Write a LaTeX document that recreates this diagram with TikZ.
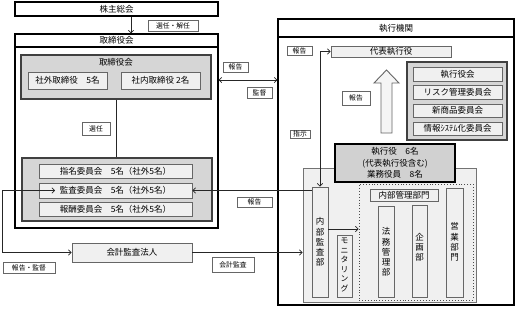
\documentclass[tikz,border=0pt]{standalone}
\usepackage{fontspec}
\setmainfont{Noto Sans CJK JP}
\usetikzlibrary{arrows.meta}
\tikzset{
  frame/.style={draw=black, line width=1.3pt, fill=white, font=\fontsize{8.5}{9}\selectfont},
  grp/.style={draw=black!75, line width=1.1pt, fill=black!16, font=\fontsize{8.5}{9}\selectfont},
  boss/.style={draw=black, line width=1.2pt, fill=black!18, font=\fontsize{8.5}{11.5}\selectfont, align=center},
  area/.style={draw=black!55, line width=0.9pt, fill=black!6},
  box/.style={draw=black!60, line width=0.9pt, fill=black!6, font=\fontsize{8.5}{9}\selectfont},
  vbox/.style={draw=black!60, line width=0.9pt, fill=black!6},
  vtext/.style={font=\fontsize{8.5}{10.2}\selectfont, align=center, inner sep=0pt},
  lbl/.style={draw=black!60, line width=0.8pt, fill=white, font=\fontsize{6.8}{7}\selectfont},
  dotbox/.style={draw=black!70, line width=0.9pt, dotted},
  conn/.style={draw=black!85, line width=0.7pt},
  tip/.style={-{Straight Barb[length=2.6pt,width=5.5pt]}},
  tips/.style={{Straight Barb[length=2.6pt,width=5.5pt]}-{Straight Barb[length=2.6pt,width=5.5pt]}},
}
\newcommand{\bx}[7]{\node[#1, inner sep=0pt, minimum width={(#5-#3)*1pt}, minimum height={(#6-#4)*1pt}] (#2) at ({(#3+#5)/2},{(#4+#6)/2}) {#7};}
\begin{document}
\begin{tikzpicture}[x=1pt,y=-1pt]
\useasboundingbox[fill=white] (0,0) rectangle (515,317);
% ---------- left side ----------
\bx{frame}{kabu}{15}{2}{218}{16}{株主総会}
\bx{frame}{torif}{15}{34}{218}{228}{}
\bx{frame}{torih}{15}{34}{218}{47}{取締役会}
\bx{grp}{torig}{21}{55}{211}{99}{}
\node[font=\fontsize{8.5}{9}\selectfont] (torit) at (116,62) {取締役会};
\bx{box}{shagai}{28}{72}{107}{89}{社外取締役　5名}
\bx{box}{shanai}{121}{72}{200}{89}{社内取締役 2名}
\bx{grp}{iinkai}{22}{158}{212}{221}{}
\bx{box}{shimei}{39}{164}{192}{178}{指名委員会　5名（社外5名）}
\bx{box}{kansa}{39}{183}{192}{198}{監査委員会　5名（社外5名）}
\bx{box}{hoshu}{39}{202}{192}{216}{報酬委員会　5名（社外5名）}
\bx{box}{kaikei}{72}{243}{192}{262}{会計監査法人}
\draw[conn] (torig.south -| 116,0) -- (iinkai.north -| 116,0);
% ---------- right side ----------
\bx{frame}{shikf}{278}{19}{514}{305}{}
\bx{frame}{shikh}{278}{19}{514}{37}{執行機関}
\bx{box}{daihyo}{331}{46}{451}{57}{代表執行役}
\draw[draw=black!60, line width=0.9pt, fill=black!4] (381,133) -- (392,133) -- (392,83) -- (399,83) -- (386.5,70) -- (374,83) -- (381,83) -- cycle;
\bx{grp}{kaigi}{407}{62}{507}{140}{}
\bx{box}{shikkai}{413}{67}{502}{81}{執行役会}
\bx{box}{risk}{413}{85}{502}{99}{リスク管理委員会}
\bx{box}{shin}{413}{104}{502}{117}{新商品委員会}
\bx{box}{joho}{413}{122}{502}{135}{情報ｼｽﾃﾑ化委員会}
\bx{area}{bumon}{303}{168}{476}{302}{}
\bx{boss}{shikko}{335}{144}{455}{182}{執行役　6名\\(代表執行役含む)\\業務役員　8名}
\bx{vbox}{naibu}{312}{187}{328}{297}{}
\node[vtext] (naibut) at (320,242) {内\\部\\監\\査\\部};
\bx{vbox}{monitor}{337}{235}{352}{297}{}
\node[vtext, font=\fontsize{7.8}{9.6}\selectfont] (monitort) at (344.5,265) {モ\\ニ\\タ\\リ\\ン\\グ};
\bx{dotbox}{kanri}{359}{184}{473}{300}{}
\bx{box}{kanrit}{370}{189}{438}{201}{内部管理部門}
\bx{vbox}{homu}{378}{206}{394}{297}{}
\node[vtext] (homut) at (386,252) {法\\務\\管\\理\\部};
\bx{vbox}{kikaku}{412}{205}{427}{297}{}
\node[vtext] (kikakut) at (419.5,247) {企\\画\\部};
\bx{vbox}{eigyo}{446}{188}{463}{297}{}
\node[vtext] (eigyot) at (454.5,242) {営\\業\\部\\門};
% ---------- connectors ----------
\draw[conn,tip] (kabu.south -| 131,0) -- (torih.north -| 131,0);
\draw[conn,tips] (torif.east |- 0,80) -- (shikf.west |- 0,80);
\coordinate (kin) at (55,190.5);
\draw[conn,tips] (kin) -- (2,190.5) |- (kaikei.west);
\draw[conn,tip] (naibu.west |- kansa.east) -- (kansa.east);
\draw[conn,tip] (kaikei.east) -- (bumon.west |- kaikei.east);
\draw[conn,tips] (daihyo.west) -| (naibu.north);
\draw[conn,tip] (naibu.east |- 0,229) -- (kanri.west |- 0,229);
% ---------- labels ----------
\bx{lbl}{l1}{148}{20}{198}{31}{選任・解任}
\bx{lbl}{l2}{82}{122}{110}{135}{選任}
\bx{lbl}{l3}{223}{62}{248}{72}{報告}
\bx{lbl}{l4}{247}{87}{272}{98}{監督}
\bx{lbl}{l5}{237}{197}{272}{207}{報告}
\bx{lbl}{l6}{3}{262}{55}{273}{報告・監督}
\bx{lbl}{l7}{212}{257}{254}{272}{会計監査}
\bx{lbl}{l8}{287}{46}{312}{55}{報告}
\bx{lbl}{l9}{342}{91}{370}{105}{報告}
\bx{lbl}{l10}{290}{130}{310}{138}{指示}
\end{tikzpicture}
\end{document}
